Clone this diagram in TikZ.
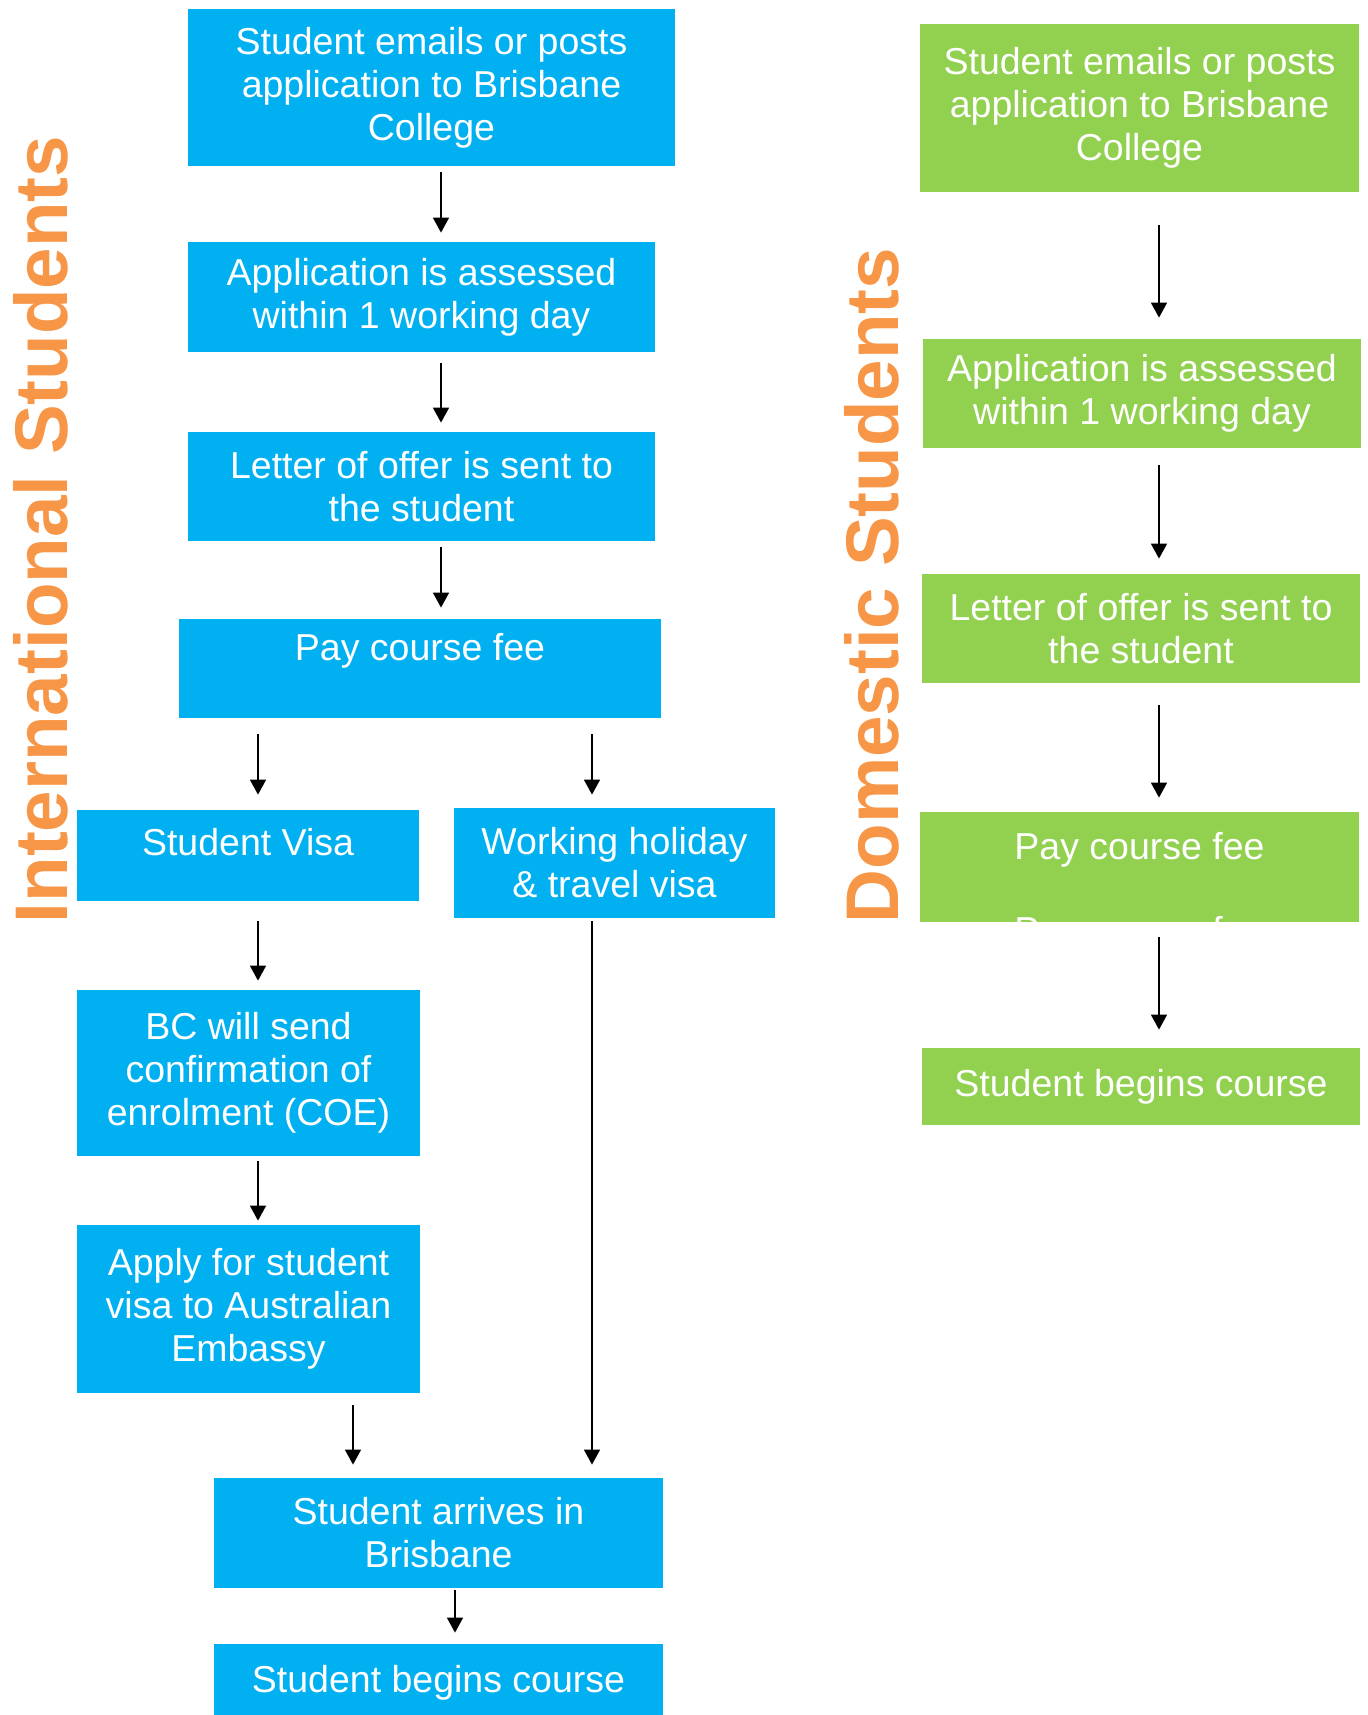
\documentclass[tikz,border=0pt]{standalone}
\usepackage{fontspec}
\setmainfont{Liberation Sans}
\usetikzlibrary{arrows.meta, positioning}
\definecolor{bcBlue}{HTML}{00B0F0}
\definecolor{bcGreen}{HTML}{92D050}
\definecolor{bcOrange}{HTML}{F79646}
\tikzset{
  arrowK/.style={-{Triangle[length=7.5pt, width=8pt]}, black, line width=0.8pt},
  boxBlue/.style={rectangle, fill=bcBlue, text=white, align=center,
                  font=\fontsize{18.75pt}{21.5pt}\selectfont, inner sep=0pt},
  boxGreen/.style={rectangle, fill=bcGreen, text=white, align=center,
                   font=\fontsize{18.75pt}{21.5pt}\selectfont, inner sep=0pt},
  titleO/.style={text=bcOrange, font=\fontsize{37.3pt}{44pt}\selectfont\bfseries,
                 rotate=90, anchor=base, inner sep=0pt},
}
\begin{document}
\begin{tikzpicture}[x=0.5pt, y=-0.5pt]
    \clip (0,0) rectangle (1368,1715);
    % international students
    \node[titleO] (tInt) at (67,529.5) {International Students};
    \node[boxBlue, minimum width=243.5pt, minimum height=78.5pt] (i1) at (431.5,87.5) {Student emails or posts\\application to Brisbane\\College};
    \node[boxBlue, minimum width=233.5pt, minimum height=55pt] (i2) at (421.5,297) {Application is assessed\\within 1 working day};
    \node[boxBlue, minimum width=233.5pt, minimum height=54.5pt] (i3) at (421.5,486.5) {Letter of offer is sent to\\the student};
    \node[boxBlue, minimum width=241pt, minimum height=49.5pt] (iPay) at (420,668.5) {Pay course fee\\~};
    \node[boxBlue, minimum width=171pt, minimum height=45.5pt] (iVisa) at (248,855.5) {Student Visa\\[-8pt]~};
    \node[boxBlue, minimum width=160.5pt, minimum height=55pt] (iWork) at (614.5,863) {Working holiday\\\& travel visa};
    \node[boxBlue, minimum width=171.5pt, minimum height=83pt] (iCoe) at (248.5,1073) {BC will send\\confirmation of\\enrolment (COE)};
    \node[boxBlue, minimum width=171.5pt, minimum height=84pt] (iApply) at (248.5,1309) {Apply for student\\visa to Australian\\Embassy};
    \node[boxBlue, minimum width=224.5pt, minimum height=55pt] (iArr) at (438.5,1533) {Student arrives in\\Brisbane};
    \node[boxBlue, minimum width=224.5pt, minimum height=38.5pt] (iBeg) at (438.5,1682.5) {Student begins course};
    \coordinate (xA) at (441,0);
    \coordinate (xB) at (258,0);
    \coordinate (xC) at (592,0);
    \coordinate (xD) at (353,0);
    \coordinate (xE) at (455,0);
    \draw[arrowK, shorten <=3pt, shorten >=4.5pt] (i1.south -| xA) -- (i2.north -| xA);
    \draw[arrowK, shorten <=5.5pt, shorten >=4.5pt] (i2.south -| xA) -- (i3.north -| xA);
    \draw[arrowK, shorten <=3pt, shorten >=5.5pt] (i3.south -| xA) -- (iPay.north -| xA);
    \draw[arrowK, shorten <=8pt, shorten >=7.5pt] (iPay.south -| xB) -- (iVisa.north -| xB);
    \draw[arrowK, shorten <=8pt, shorten >=6.5pt] (iPay.south -| xC) -- (iWork.north -| xC);
    \draw[arrowK, shorten <=10pt, shorten >=4.5pt] (iVisa.south -| xB) -- (iCoe.north -| xB);
    \draw[arrowK, shorten <=2.5pt, shorten >=2pt] (iCoe.south -| xB) -- (iApply.north -| xB);
    \draw[arrowK, shorten <=6pt, shorten >=6.5pt] (iApply.south -| xD) -- (iArr.north -| xD);
    \draw[arrowK, shorten <=1.5pt, shorten >=6.5pt] (iWork.south -| xC) -- (iArr.north -| xC);
    \draw[arrowK, shorten <=1pt, shorten >=5.5pt] (iArr.south -| xE) -- (iBeg.north -| xE);
    % domestic students
    \node[titleO] (tDom) at (898,585.5) {Domestic Students};
    \node[boxGreen, minimum width=219.5pt, minimum height=84pt] (d1) at (1139.5,108) {Student emails or posts\\application to Brisbane\\College};
    \node[boxGreen, minimum width=219pt, minimum height=54.5pt] (d2) at (1142,393.5) {Application is assessed\\within 1 working day};
    \node[boxGreen, minimum width=219pt, minimum height=54.5pt] (d3) at (1141,628.5) {Letter of offer is sent to\\the student};
    \node[boxGreen, minimum width=219.5pt, minimum height=55pt,
          path picture={\node[text=white, anchor=base, inner sep=0pt,
                              font=\fontsize{18.75pt}{21.5pt}\selectfont]
                          at ([yshift=-10.5pt]path picture bounding box.south) {Pay course fee};}]
          (dPay) at (1139.5,867) {Pay course fee\\~};
    \node[boxGreen, minimum width=219pt, minimum height=38.5pt] (dBeg) at (1141,1086.5) {Student begins course};
    \coordinate (xF) at (1159,0);
    \draw[arrowK, shorten <=16.5pt, shorten >=10.5pt] (d1.south -| xF) -- (d2.north -| xF);
    \draw[arrowK, shorten <=8.5pt, shorten >=7.5pt] (d2.south -| xF) -- (d3.north -| xF);
    \draw[arrowK, shorten <=11pt, shorten >=7pt] (d3.south -| xF) -- (dPay.north -| xF);
    \draw[arrowK, shorten <=7.5pt, shorten >=9pt] (dPay.south -| xF) -- (dBeg.north -| xF);
\end{tikzpicture}
\end{document}
